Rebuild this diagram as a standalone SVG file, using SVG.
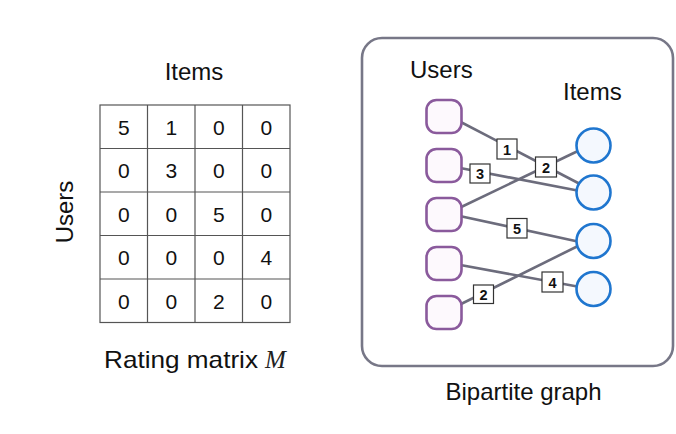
<svg xmlns="http://www.w3.org/2000/svg" width="676" height="434" viewBox="0 0 676 434">
<style>
  text { font-family: "Liberation Sans", Arial, sans-serif; fill: #111; }
  .lbl { font-size: 24px; }
  .math { font-family: "Liberation Serif", "Times New Roman", serif; font-style: italic; font-size: 25px; fill: #222; }
  .cell { font-size: 21px; text-anchor: middle; }
  .grid { stroke: #555; stroke-width: 1.2; fill: none; }
  .edge { stroke: #6c6c7c; stroke-width: 2.6; fill: none; }
  .user { fill: #fdf9fd; stroke: #8a5a9c; stroke-width: 2.6; }
  .item { fill: #f4f8fe; stroke: #1f76cf; stroke-width: 2.6; }
  .wbox { fill: #fff; stroke: #333; stroke-width: 1.2; }
  .wt { font-size: 14.5px; font-weight: bold; text-anchor: middle; }
</style>
<rect width="676" height="434" fill="#fff"/>

<g id="matrix">
  <text class="lbl" x="194" y="80" text-anchor="middle">Items</text>
  <text class="lbl" x="73" y="212" text-anchor="middle" transform="rotate(-90 73 212)">Users</text>
  <rect class="grid" x="100" y="105" width="190" height="217.5"/>
  <path class="grid" d="M147.5 105V322.5M195 105V322.5M242.5 105V322.5M100 148.5H290M100 192H290M100 235.5H290M100 279H290"/>
  <g>
    <text class="cell" x="123.75" y="134.5">5</text><text class="cell" x="171.25" y="134.5">1</text><text class="cell" x="218.75" y="134.5">0</text><text class="cell" x="266.25" y="134.5">0</text>
    <text class="cell" x="123.75" y="178">0</text><text class="cell" x="171.25" y="178">3</text><text class="cell" x="218.75" y="178">0</text><text class="cell" x="266.25" y="178">0</text>
    <text class="cell" x="123.75" y="221.5">0</text><text class="cell" x="171.25" y="221.5">0</text><text class="cell" x="218.75" y="221.5">5</text><text class="cell" x="266.25" y="221.5">0</text>
    <text class="cell" x="123.75" y="265">0</text><text class="cell" x="171.25" y="265">0</text><text class="cell" x="218.75" y="265">0</text><text class="cell" x="266.25" y="265">4</text>
    <text class="cell" x="123.75" y="308.5">0</text><text class="cell" x="171.25" y="308.5">0</text><text class="cell" x="218.75" y="308.5">2</text><text class="cell" x="266.25" y="308.5">0</text>
  </g>
  <text class="lbl" x="104" y="368" textLength="154" lengthAdjust="spacingAndGlyphs">Rating matrix</text>
  <text class="math" x="265" y="368">M</text>
</g>

<g id="panel">
  <rect x="362" y="38" width="311" height="328" rx="20" ry="20" fill="#fff" stroke="#777787" stroke-width="2.6"/>
  <text class="lbl" x="410" y="78">Users</text>
  <text class="lbl" x="563" y="100">Items</text>
</g>

<g id="connectors">
  <line class="edge" x1="455" y1="119" x2="580" y2="184"/>
  <line class="edge" x1="455" y1="167" x2="580" y2="191"/>
  <line class="edge" x1="455" y1="210" x2="580" y2="150"/>
  <line class="edge" x1="455" y1="215" x2="580" y2="242"/>
  <line class="edge" x1="455" y1="264" x2="580" y2="287"/>
  <line class="edge" x1="455" y1="307" x2="580" y2="245"/>
</g>

<g id="user1"><rect class="user" x="426.5" y="100" width="35" height="33" rx="10"/></g>
<g id="user2"><rect class="user" x="426.5" y="149" width="35" height="33" rx="10"/></g>
<g id="user3"><rect class="user" x="426.5" y="198" width="35" height="33" rx="10"/></g>
<g id="user4"><rect class="user" x="426.5" y="247" width="35" height="33" rx="10"/></g>
<g id="user5"><rect class="user" x="426.5" y="296" width="35" height="33" rx="10"/></g>

<g id="item1"><circle class="item" cx="593.5" cy="145.5" r="17"/></g>
<g id="item2"><circle class="item" cx="593.5" cy="192.5" r="17"/></g>
<g id="item3"><circle class="item" cx="593.5" cy="241" r="17"/></g>
<g id="item4"><circle class="item" cx="593.5" cy="289" r="17"/></g>

<g id="edge-labels">
  <rect class="wbox" x="497" y="139" width="20" height="20"/><text class="wt" x="507" y="154.5">1</text>
  <rect class="wbox" x="470" y="164" width="20" height="19"/><text class="wt" x="480" y="178.5">3</text>
  <rect class="wbox" x="535.5" y="157" width="21" height="20"/><text class="wt" x="546" y="172.5">2</text>
  <rect class="wbox" x="507" y="218.5" width="20" height="19.5"/><text class="wt" x="517" y="233.5">5</text>
  <rect class="wbox" x="542" y="272" width="21" height="20"/><text class="wt" x="552.5" y="287.5">4</text>
  <rect class="wbox" x="473.5" y="285" width="20" height="18.5"/><text class="wt" x="483.5" y="299.5">2</text>
</g>

<g id="caption">
  <text class="lbl" x="523.5" y="400" text-anchor="middle">Bipartite graph</text>
</g>
</svg>
